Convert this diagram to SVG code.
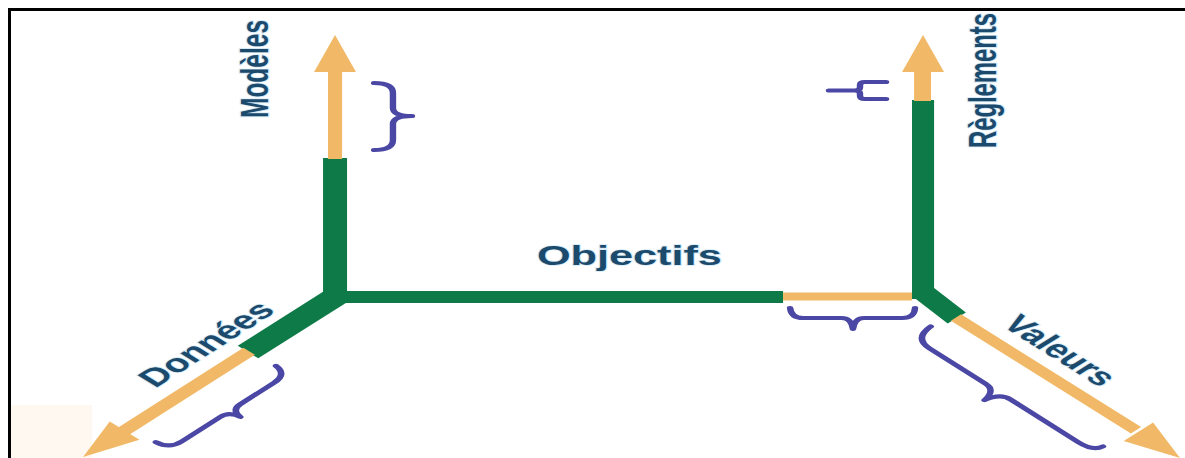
<svg xmlns="http://www.w3.org/2000/svg" width="1185" height="458" viewBox="0 0 1185 458">
  <defs>
    <style>
      .green { fill: #0d7a47; }
      .orange { fill: #f1b967; }
      .brace { fill: none; stroke: #4b47a5; stroke-width: 4; stroke-linecap: round; stroke-linejoin: round; }
      .label { font-family: "Liberation Sans", Arial, sans-serif; font-weight: bold; font-size: 24px; fill: #1b4a6d; stroke: #b9dcef; stroke-width: 1.6; stroke-opacity: 0.6; paint-order: stroke; }
    </style>
  </defs>

  <rect x="0" y="0" width="1185" height="458" fill="#ffffff"/>
  <rect x="11" y="405" width="81" height="53" fill="#fef8f0"/>
  <!-- frame -->
  <path d="M 9.5 458 V 9.5 H 1185" fill="none" stroke="#000000" stroke-width="3"/>

  <!-- drawing is laid out in a square grid and widened horizontally -->
  <g transform="scale(1.6,1)">
    <g id="connectors">
      <!-- central bar between the two hubs -->
      <rect class="green" x="209.4" y="291" width="280" height="12"/>
      <rect class="orange" x="489.4" y="292.5" width="80.6" height="8"/>
    </g>

    <g id="axis-modeles">
      <rect class="green" x="201.9" y="158" width="15" height="144"/>
      <rect class="orange" x="205" y="70" width="8.8" height="89"/>
      <polygon class="orange" points="209.4,35 222.5,72 196.3,72"/>
      <path class="brace" d="M 233.8 83 Q 245.6 83 245.6 93 L 245.6 108 Q 245.6 116 257.5 116 Q 245.6 116 245.6 124 L 245.6 140 Q 245.6 150 233.8 150"/>
      <text class="label" transform="translate(167.5,118) rotate(-90)" textLength="98" lengthAdjust="spacingAndGlyphs">Modèles</text>
    </g>

    <g id="axis-reglements">
      <rect class="green" x="570" y="100" width="13.8" height="199"/>
      <rect class="orange" x="571.3" y="70" width="10.6" height="31"/>
      <polygon class="orange" points="576.9,35 590,72 563.8,72"/>
      <path class="brace" d="M 553.8 82 L 540.5 82 Q 537.5 82 537.5 85 L 537.5 87.5 Q 537.5 90.5 534 90.5 L 518.1 90.5 M 534 90.5 Q 537.5 90.5 537.5 93.5 L 537.5 96 Q 537.5 99 540.5 99 L 553.8 99"/>
      <text class="label" transform="translate(622.5,148) rotate(-90)" textLength="135" lengthAdjust="spacingAndGlyphs">Règlements</text>
    </g>

    <g id="axis-objectifs">
      <path class="brace" d="M 493.8 308 Q 494.5 318 502 318 L 526 318 Q 532 318 533.1 329 Q 534.2 318 540 318 L 564 318 Q 571.5 318 571.9 308"/>
      <text class="label" x="335.6" y="265" style="font-size:27px" textLength="115.6" lengthAdjust="spacingAndGlyphs">Objectifs</text>
    </g>

    <g id="axis-donnees">
      <polygon class="green" points="204.6,289.1 217.4,301.7 161.4,358.3 148.6,345.7"/>
      <polygon class="orange" points="152.1,347.8 159.3,354.8 80.1,435.5 72.9,428.5"/>
      <polygon class="orange" points="51.9,457 87.2,439.7 68.6,421.5"/>
      <g transform="translate(209.4,297) rotate(134.55)">
        <path class="brace" d="M 75 -22 Q 76 -33 88 -33 L 118 -33 Q 126 -33 127 -42 Q 128 -33 136 -33 L 170 -33 Q 181 -33 182 -22"/>
      </g>
      <g transform="translate(209.4,297) rotate(-45.45)">
        <text class="label" x="-144" y="-16" style="font-size:25px" textLength="108" lengthAdjust="spacingAndGlyphs">Données</text>
      </g>
    </g>

    <g id="axis-valeurs">
      <polygon class="green" points="582.6,286.4 571.2,297.6 592.3,323.6 603.7,312.4"/>
      <polygon class="orange" points="600.7,314.3 594.3,320.7 706.8,433.4 713.2,427"/>
      <polygon class="orange" points="737.5,458 720.7,422.5 702.3,440.9"/>
      <g transform="translate(576.9,296) rotate(45.25)">
        <path class="brace" d="M 25 18 Q 26 34 40 34 L 90 34 Q 99 34 101 46 Q 103 34 112 34 L 172 34 Q 185 34 186 26"/>
        <text class="label" x="55" y="-14" style="font-size:25px" textLength="88" lengthAdjust="spacingAndGlyphs">Valeurs</text>
      </g>
    </g>
  </g>
</svg>
